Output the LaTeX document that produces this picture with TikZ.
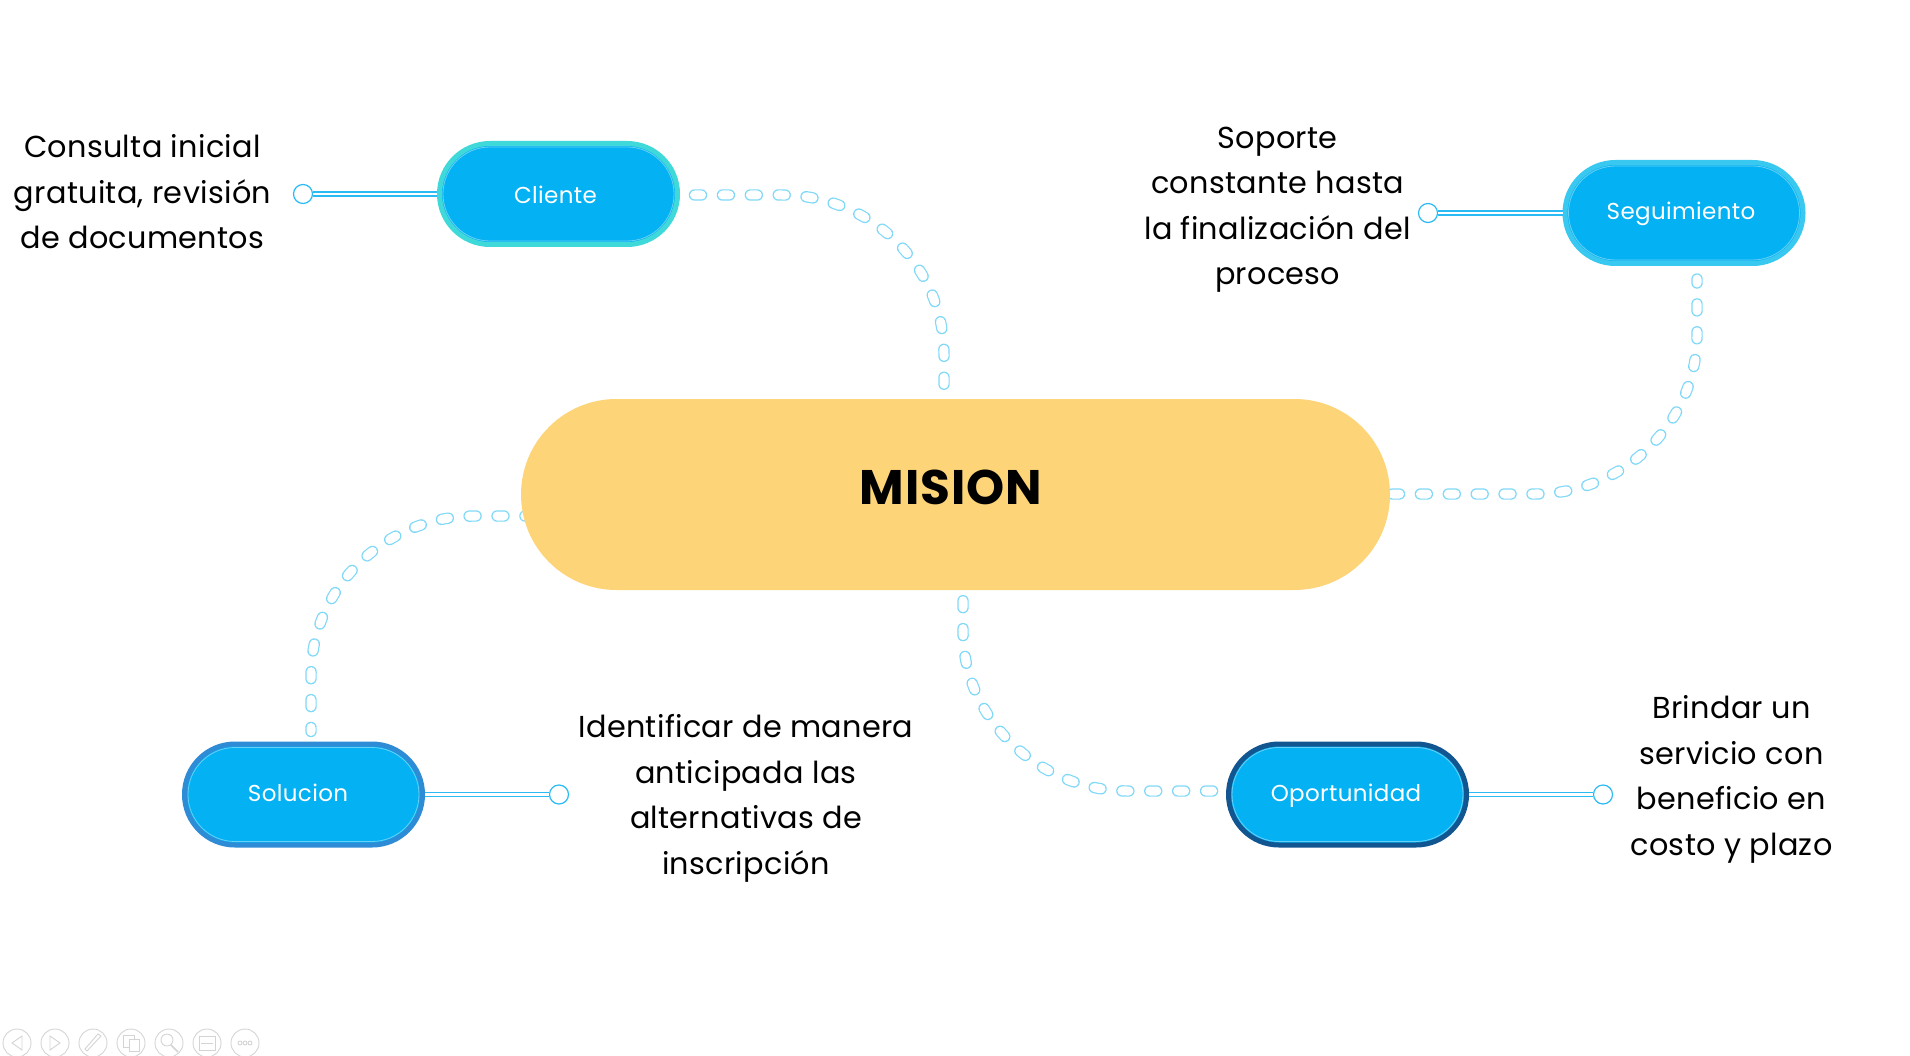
\documentclass[tikz,border=0pt]{standalone}
\usepackage{fontspec}
\setmainfont{Poppins}
\usetikzlibrary{backgrounds}
\definecolor{pillblue}{HTML}{04B1F2}
\definecolor{linkblue}{HTML}{7FD8F8}
\definecolor{railblue}{HTML}{2ABBF4}
\definecolor{mainyellow}{HTML}{FDD477}
\definecolor{iconGray}{HTML}{D4D4D4}
\definecolor{edgeA}{HTML}{40D9D9}
\definecolor{edgeB}{HTML}{38C8F0}
\definecolor{edgeC}{HTML}{115591}
\definecolor{edgeD}{HTML}{2E8CD6}
\tikzset{
  x=1pt,y=-1pt,
  pill/.style={draw=#1,line width=5pt,fill=pillblue,rounded corners=50.4pt,minimum width=238pt,minimum height=101pt,inner sep=0pt,
    path picture={\draw[white,opacity=.4,line width=.8pt,rounded corners=47pt] ([shift={(3.5,3.5)}]path picture bounding box.north west) rectangle ([shift={(-3.5,-3.5)}]path picture bounding box.south east);}},
  pilltext/.style={text=white,inner sep=0pt,font=\fontsize{23}{28}\selectfont\addfontfeatures{LetterSpace=1.5}},
  mainpill/.style={fill=mainyellow,rounded corners=95.5pt,minimum width=869pt,minimum height=191pt,inner sep=0pt},
  knob/.style={circle,draw=railblue,line width=1.2pt,fill=white,minimum size=19pt,inner sep=0pt},
  rail/.style={draw=railblue,line width=1.2pt,double=white,double distance=2.8pt},
  dotlink/.style={draw=linkblue,line width=11.4pt,line cap=round,dash pattern=on 7pt off 20.9pt,dash phase=#1,
    postaction={draw=white,line width=9pt,line cap=round,dash pattern=on 7pt off 20.9pt,dash phase=#1}},
  dotlink/.default=0pt,
  note/.style={align=center,inner sep=0pt,font=\fontsize{30.3}{45.5}\selectfont\addfontfeatures{LetterSpace=1}},
  icon/.style={draw=iconGray,line width=.9pt}
}
\begin{document}
\begin{tikzpicture}
\useasboundingbox (0,0) rectangle (1910,1056);
\node[mainpill] (mision) at (955.5,494.5) {};
\node[inner sep=0pt,font=\fontsize{48.5}{60}\selectfont\bfseries\addfontfeatures{LetterSpace=2}] (misionT) at (951,487) {MISION};

\node[pill=edgeA] (cliente) at (558.5,194) {};
\node[pill=edgeB] (seguimiento) at (1684,213) {};
\node[pill=edgeC] (oportunidad) at (1347.5,794.5) {};
\node[pill=edgeD] (solucion) at (303.5,794.5) {};

\node[pilltext] (clienteT) at (555.5,195) {Cliente};
\node[pilltext] (seguimientoT) at (1681,213.5) {Seguimiento};
\node[pilltext] (oportunidadT) at (1346,795.5) {Oportunidad};
\node[pilltext] (solucionT) at (298,793) {Solucion};

\node[knob] (k1) at (303,194) {};
\node[knob] (k2) at (1428,213) {};
\node[knob] (k3) at (1603,794.5) {};
\node[knob] (k4) at (559,794.5) {};
\draw[rail] (k1) -- (cliente);
\draw[rail] (k2) -- (seguimiento);
\draw[rail] (k3) -- (oportunidad);
\draw[rail] (k4) -- (solucion);

\node[note] (n1) at (142.5,192) {Consulta inicial\\gratuita, revisión\\de documentos};
\node[note] (n2) at (1277.7,209.6) {Soporte\\constante hasta\\la finalización del\\proceso};
\node[note] (n3) at (746,798.5) {Identificar de manera\\anticipada las\\alternativas de\\inscripción};
\node[note] (n4) at (1731.5,779.5) {Brindar un\\servicio con\\beneficio en\\costo y plazo};

\coordinate (a1) at (782,195); \coordinate (a2) at (871,195); \coordinate (a3) at (944,266); \coordinate (a4) at (944,355);
\coordinate (b1) at (1697,335); \coordinate (b2) at (1697,422); \coordinate (b3) at (1624,494); \coordinate (b4) at (1535,494);
\coordinate (c1) at (311,676); \coordinate (c2) at (311,588); \coordinate (c3) at (385,516); \coordinate (c4) at (475,516);
\coordinate (d1) at (963,632); \coordinate (d2) at (963,719); \coordinate (d3) at (1039.5,791); \coordinate (d4) at (1127.5,791);
\begin{scope}[on background layer]
\draw[dotlink] ([shift={(14.5,1)}]cliente.east) -- (a1) .. controls (a2) and (a3) .. (a4) -- ([shift={(-11.5,-11.5)}]mision.north);
\draw[dotlink=3pt] ([shift={(13,13)}]seguimiento.south) -- (b1) .. controls (b2) and (b3) .. (b4) -- ([shift={(-8,-.5)}]mision.east);
\draw[dotlink=3pt] ([shift={(7.5,-10)}]solucion.north) -- (c1) .. controls (c2) and (c3) .. (c4) -- ([shift={(10,21.5)}]mision.west);
\draw[dotlink] ([shift={(7.5,10.5)}]mision.south) -- (d1) .. controls (d2) and (d3) .. (d4) -- ([shift={(-10,-3.5)}]oportunidad.west);
\end{scope}

% slideshow controls
\foreach \cx in {17,55,93,131,169,207,245} \draw[icon] (\cx,1043) circle (14);
\draw[icon] (22,1036) -- (12,1043) -- (22,1050) -- cycle;
\draw[icon] (50,1036) -- (60,1043) -- (50,1050) -- cycle;
\draw[icon] (87,1051) -- (85,1049) -- (98,1034) -- (101,1036) -- cycle;
\draw[icon] (123,1035) rectangle (134,1047);
\draw[icon,fill=white] (129,1039) rectangle (139,1051);
\draw[icon] (167,1040) circle (6);
\draw[icon,line width=1.6pt] (171,1045) -- (178,1052);
\draw[icon] (199,1036) rectangle (215,1050);
\draw[icon] (201,1043) -- (213,1043);
\foreach \cx in {240,245,250} \draw[icon] (\cx,1043) circle (2);
\end{tikzpicture}
\end{document}
